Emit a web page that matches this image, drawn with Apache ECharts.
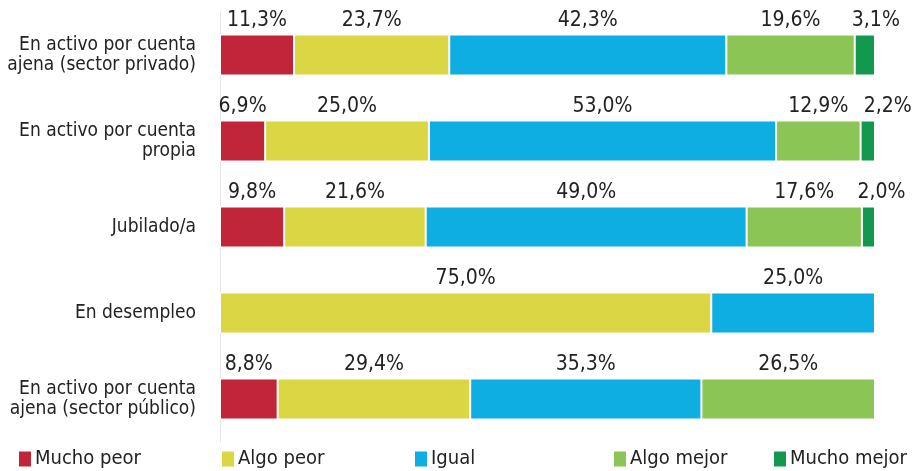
<!DOCTYPE html>
<html>
<head>
<meta charset="utf-8">
<style>
  html, body { margin: 0; padding: 0; background: #fff; }
  #chart { width: 918px; height: 471px; }
</style>
<script src="https://cdn.jsdelivr.net/npm/echarts@6/dist/echarts.min.js"></script>
</head>
<body>
<div id="chart"></div>
<script>
// Categories (top to bottom)
const categories = [
  'En activo por cuenta\najena (sector privado)',
  'En activo por cuenta\npropia',
  'Jubilado/a',
  'En desempleo',
  'En activo por cuenta\najena (sector público)'
];

// Percentages per answer, one entry per category (null = no segment)
const muchoPeor  = [11.3, 6.9, 9.8, null, 8.8];
const algoPeor   = [23.7, 25.0, 21.6, 75.0, 29.4];
const igual      = [42.3, 53.0, 49.0, 25.0, 35.3];
const algoMejor  = [19.6, 12.9, 17.6, null, 26.5];
const muchoMejor = [3.1, 2.2, 2.0, null, null];

const seriesNames = ['Mucho peor', 'Algo peor', 'Igual', 'Algo mejor', 'Mucho mejor'];
const seriesData = [muchoPeor, algoPeor, igual, algoMejor, muchoMejor];
const colors = ['#C1253A', '#DBD744', '#0EADE2', '#8BC556', '#12994F'];

// Labels of the thin last segments are nudged right so they don't collide
const labelShift = {4: [11, 20, 13, 0, 0]};

const FONT = '"Liberation Sans Narrow", "DejaVu Sans Condensed", "Open Sans", sans-serif';

const fmt = v => v.toFixed(1).replace('.', ',') + '%';

const series = seriesNames.map((name, si) => ({
  name: name,
  type: 'bar',
  stack: 'total',
  barWidth: 41,
  itemStyle: { color: colors[si], borderColor: '#fff', borderWidth: 1 },
  label: {
    show: true,
    position: 'top',
    distance: 3,
    color: '#222',
    fontFamily: FONT,
    fontSize: 21,
    formatter: p => fmt(p.value)
  },
  data: seriesData[si].map((v, ci) => {
    if (v == null) return null;
    const shift = labelShift[si] ? labelShift[si][ci] : 0;
    return shift ? { value: v, label: { offset: [shift, 0] } } : v;
  })
}));

// Legend entries are placed individually along the bottom
const legendLeft = [17, 220, 413, 612, 772];
const legends = seriesNames.map((name, i) => ({
  data: [name],
  left: legendLeft[i],
  top: 449,
  padding: 0,
  icon: 'rect',
  itemWidth: 14,
  itemHeight: 17,
  itemGap: 7,
  selectedMode: false,
  textStyle: { color: '#222', fontFamily: FONT, fontSize: 20, padding: [0, 0, 0, -2] }
}));

const chart = echarts.init(document.getElementById('chart'), null, { renderer: 'canvas' });
chart.setOption({
  animation: false,
  color: colors,
  legend: legends,
  grid: { left: 220, right: 43, top: 12, bottom: 29, containLabel: false, outerBoundsMode: 'none' },
  xAxis: {
    type: 'value',
    min: 0,
    max: 100,
    show: false
  },
  yAxis: {
    type: 'category',
    inverse: true,
    data: categories,
    axisLine: { show: true, lineStyle: { color: '#e6e6e6', width: 1 } },
    axisTick: { show: false },
    axisLabel: {
      color: '#222',
      fontFamily: FONT,
      fontSize: 19,
      lineHeight: 20,
      padding: [5, 0, 0, 0],
      margin: 24,
      align: 'right'
    }
  },
  series: series
});
</script>
</body>
</html>
